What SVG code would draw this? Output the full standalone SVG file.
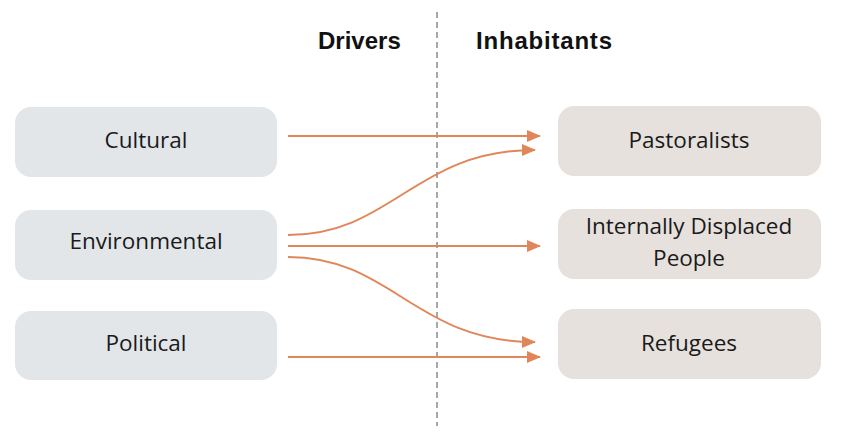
<svg xmlns="http://www.w3.org/2000/svg" width="859" height="438" viewBox="0 0 859 438">
<style>
.title{font-family:"Liberation Sans",Arial,sans-serif;font-weight:bold;font-size:24px;fill:#111}
.lbl{font-family:"Open Sans","Noto Sans",sans-serif;font-size:22.5px;fill:#1a1a1a;text-anchor:middle}
.drv{fill:#e3e6e9}
.inh{fill:#e6e1dd}
.arr{fill:none;stroke:#e0875a;stroke-width:2}
</style>
<defs>
<marker id="ah" markerUnits="userSpaceOnUse" markerWidth="14" markerHeight="12" refX="13" refY="6" orient="auto">
<path d="M0,0 L14,6 L0,12 z" fill="#e0875a"/>
</marker>
</defs>
<rect width="859" height="438" fill="#fff"/>
<line x1="437" y1="12" x2="437" y2="426" stroke="#8a8a8a" stroke-width="1.5" stroke-dasharray="6,4"/>
<text class="title" x="318" y="49">Drivers</text>
<text class="title" x="476" y="49" textLength="136">Inhabitants</text>
<g id="cultural"><rect class="drv" x="15" y="107" width="262" height="70" rx="16"/><text class="lbl" x="146" y="148">Cultural</text></g>
<g id="environmental"><rect class="drv" x="15" y="210" width="262" height="70" rx="16"/><text class="lbl" x="146" y="249">Environmental</text></g>
<g id="political"><rect class="drv" x="15" y="311" width="262" height="69" rx="16"/><text class="lbl" x="146" y="351">Political</text></g>
<g id="pastoralists"><rect class="inh" x="558" y="106" width="263" height="70" rx="16"/><text class="lbl" x="689" y="148">Pastoralists</text></g>
<g id="idp"><rect class="inh" x="558" y="209" width="263" height="70" rx="16"/><text class="lbl" x="689" y="234">Internally Displaced</text><text class="lbl" x="689" y="266">People</text></g>
<g id="refugees"><rect class="inh" x="558" y="309" width="263" height="70" rx="16"/><text class="lbl" x="689" y="351">Refugees</text></g>
<g id="connectors">
<path class="arr" d="M288,136 L540,136" marker-end="url(#ah)"/>
<path class="arr" d="M288,235 C392,235 415,150 535,150" marker-end="url(#ah)"/>
<path class="arr" d="M288,246 L540,246" marker-end="url(#ah)"/>
<path class="arr" d="M288,257 C392,257 415,342 535,342" marker-end="url(#ah)"/>
<path class="arr" d="M288,357 L540,357" marker-end="url(#ah)"/>
</g>
</svg>
